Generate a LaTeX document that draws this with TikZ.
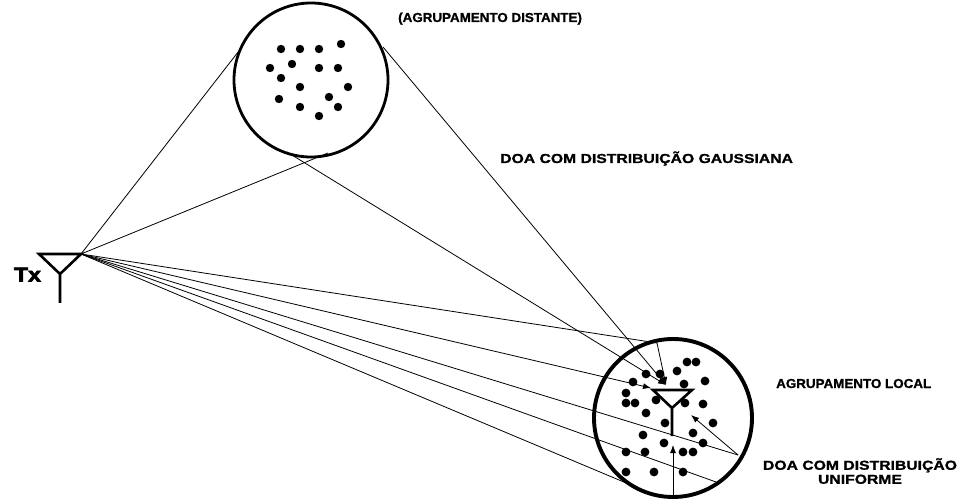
\documentclass[tikz,border=0pt]{standalone}
\usepackage{fontspec}
\setmainfont{Liberation Sans}
\newfontfamily\lblfont[FakeStretch=1.21,BoldFeatures={FakeBold=1.2}]{Liberation Sans}
\newfontfamily\plainlblfont[FakeStretch=1.03,BoldFeatures={FakeBold=1.2}]{Liberation Sans}
\newfontfamily\txfont[FakeStretch=1.15,BoldFeatures={FakeBold=3.5}]{Liberation Sans}
\usetikzlibrary{arrows.meta}
\begin{document}
\begin{tikzpicture}[x=1pt,y=-1pt,
  ray/.style={line width=0.8pt},
  rayarrow/.style={line width=0.8pt,-{Latex[length=8pt,width=6pt]}},
  antenna/.style={line width=2.6pt,line join=miter},
  lbl/.style={inner sep=0pt,font=\lblfont\bfseries\fontsize{13}{14}\selectfont},
  smalllbl/.style={inner sep=0pt,font=\plainlblfont\bfseries\fontsize{13}{14}\selectfont},
  dot/.style={fill=black}]
\useasboundingbox (0,0) rectangle (963,502);
% clusters
\node[circle,draw,line width=2.8pt,minimum size=154pt,inner sep=0pt] (far) at (311,80) {};
\node[circle,draw,line width=3.9pt,minimum size=158pt,inner sep=0pt] (loc) at (673,418) {};
% distant cluster scatterers
\foreach \p in {(281,49),(300,49),(319,49),(341,44),(270,68),(292,64),(319,68),(338,68),
  (281,78),(300,87),(348,87),(279,99),(329,97),(300,107),(338,107),(319,116)}
  \fill[dot] \p circle (4.2);
% local cluster scatterers
\foreach \p in {(687,362),(696,362),(646,374),(660,374),(677,371),(633,382),(684,384),(705,381),
  (626,393),(626,403),(635,403),(656,400),(685,403),(703,404),(646,413),(713,423),(665,423),
  (643,435),(693,433),(664,443),(703,443),(626,452),(645,452),(683,452),(693,452),
  (626,472),(654,472),(683,472)}
  \fill[dot] \p circle (4.4);
% Tx antenna
\draw[antenna] (39,254) -- (81,254) -- (60,274) -- cycle (60,274) -- (60,303);
\coordinate (tx) at (81,254);
\node[anchor=base,inner sep=0pt,font=\txfont\bfseries\fontsize{20}{22}\selectfont] (txl) at (27.5,281.5) {Tx};
% Rx antenna
\draw[antenna] (653,390) -- (692,390) -- (672,408) -- cycle (672,408) -- (672,436);
% points
\coordinate (f1) at (242,47);
\coordinate (f2) at (328,153);
\coordinate (f3) at (383,47);
\coordinate (f4) at (287,152);
\coordinate (r1) at (666,385);
\coordinate (r2) at (651,388);
\coordinate (r3) at (691,415);
\coordinate (r4) at (673,445);
\coordinate (s1) at (657,343);
\coordinate (s2) at (738,455);
\coordinate (s3) at (716,482);
\coordinate (s4) at (650,493);
\coordinate (s5) at (673,498);
% rays
\draw[ray] (tx) -- (f1);
\draw[ray] (tx) -- (f2);
\draw[rayarrow] (f3) -- (r1);
\draw[rayarrow] (f4) -- (r1);
\draw[ray] (tx) -- (s1);
\draw[rayarrow] (s1) -- (r1);
\draw[rayarrow] (tx) -- (r2);
\draw[ray] (tx) -- (s2);
\draw[rayarrow] (s2) -- (r3);
\draw[ray] (tx) -- (s3);
\draw[ray] (tx) -- (s4);
\draw[rayarrow] (s5) -- (r4);
% labels
\node[smalllbl,anchor=base west] (ld) at (398,22) {(AGRUPAMENTO DISTANTE)};
\node[lbl,anchor=base west] (lg) at (500,163) {DOA COM DISTRIBUIÇÃO GAUSSIANA};
\node[smalllbl,anchor=base west] (ll) at (776,388) {AGRUPAMENTO LOCAL};
\node[lbl,anchor=north,align=center] (lu) at (860,458) {DOA COM DISTRIBUIÇÃO\\UNIFORME};
\end{tikzpicture}
\end{document}
